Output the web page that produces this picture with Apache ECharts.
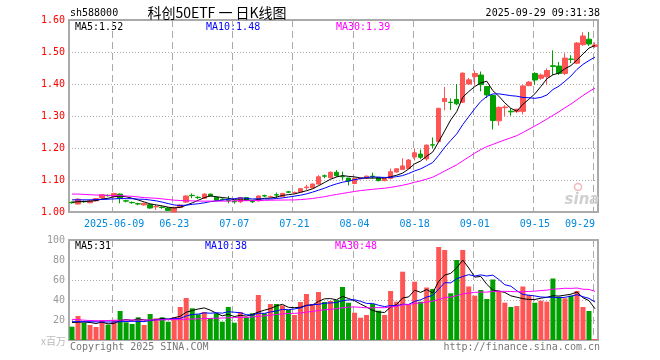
<!DOCTYPE html>
<html><head><meta charset="utf-8">
<script src="https://cdn.jsdelivr.net/npm/echarts@6/dist/echarts.min.js"></script>
<style>html,body{margin:0;padding:0;background:#fff}#c{width:660px;height:360px}</style>
</head><body><div id="c"></div>
<script>
const dates = ['2025-05-28','2025-05-29','2025-05-30','2025-06-03','2025-06-04','2025-06-05','2025-06-06','2025-06-09','2025-06-10','2025-06-11','2025-06-12','2025-06-13','2025-06-16','2025-06-17','2025-06-18','2025-06-19','2025-06-20','2025-06-23','2025-06-24','2025-06-25','2025-06-26','2025-06-27','2025-06-30','2025-07-01','2025-07-02','2025-07-03','2025-07-04','2025-07-07','2025-07-08','2025-07-09','2025-07-10','2025-07-11','2025-07-14','2025-07-15','2025-07-16','2025-07-17','2025-07-18','2025-07-21','2025-07-22','2025-07-23','2025-07-24','2025-07-25','2025-07-28','2025-07-29','2025-07-30','2025-07-31','2025-08-01','2025-08-04','2025-08-05','2025-08-06','2025-08-07','2025-08-08','2025-08-11','2025-08-12','2025-08-13','2025-08-14','2025-08-15','2025-08-18','2025-08-19','2025-08-20','2025-08-21','2025-08-22','2025-08-25','2025-08-26','2025-08-27','2025-08-28','2025-08-29','2025-09-01','2025-09-02','2025-09-03','2025-09-04','2025-09-05','2025-09-08','2025-09-09','2025-09-10','2025-09-11','2025-09-12','2025-09-15','2025-09-16','2025-09-17','2025-09-18','2025-09-19','2025-09-22','2025-09-23','2025-09-24','2025-09-25','2025-09-26','2025-09-29'];
const opens = [1.030,1.025,1.033,1.029,1.035,1.044,1.052,1.048,1.056,1.035,1.030,1.026,1.022,1.023,1.016,1.015,1.0125,1.000,1.014,1.031,1.052,1.046,1.043,1.056,1.046,1.040,1.036,1.033,1.032,1.045,1.033,1.035,1.051,1.047,1.054,1.048,1.063,1.060,1.0625,1.076,1.075,1.0875,1.113,1.107,1.124,1.111,1.106,1.089,1.104,1.106,1.112,1.108,1.098,1.105,1.125,1.133,1.136,1.172,1.181,1.166,1.210,1.220,1.345,1.343,1.352,1.343,1.400,1.423,1.428,1.392,1.364,1.285,1.326,1.315,1.3135,1.3145,1.395,1.433,1.418,1.423,1.457,1.456,1.433,1.478,1.465,1.523,1.540,1.517];
const closes = [1.029,1.040,1.032,1.035,1.042,1.054,1.051,1.058,1.042,1.034,1.029,1.025,1.027,1.0125,1.017,1.014,1.005,1.0146,1.022,1.050,1.051,1.045,1.056,1.050,1.036,1.039,1.035,1.032,1.045,1.037,1.032,1.050,1.050,1.048,1.053,1.058,1.062,1.061,1.073,1.078,1.0875,1.110,1.112,1.124,1.1135,1.110,1.097,1.105,1.106,1.112,1.110,1.098,1.105,1.126,1.135,1.144,1.1625,1.185,1.171,1.209,1.209,1.324,1.355,1.342,1.338,1.434,1.413,1.433,1.398,1.366,1.286,1.327,1.328,1.313,1.321,1.394,1.406,1.4125,1.428,1.442,1.455,1.433,1.481,1.477,1.528,1.550,1.525,1.522];
const lows = [1.026,1.023,1.029,1.027,1.033,1.042,1.048,1.046,1.027,1.030,1.026,1.021,1.020,1.010,1.006,1.010,1.003,1.000,1.012,1.029,1.043,1.040,1.041,1.048,1.034,1.035,1.027,1.026,1.028,1.035,1.028,1.032,1.047,1.044,1.043,1.046,1.059,1.057,1.060,1.069,1.073,1.085,1.106,1.105,1.110,1.100,1.083,1.087,1.102,1.104,1.104,1.096,1.096,1.102,1.123,1.131,1.134,1.161,1.165,1.160,1.199,1.218,1.318,1.319,1.334,1.340,1.397,1.395,1.377,1.356,1.258,1.270,1.300,1.301,1.310,1.305,1.393,1.397,1.413,1.397,1.428,1.428,1.428,1.465,1.462,1.519,1.519,1.513];
const highs = [1.033,1.043,1.036,1.037,1.044,1.056,1.055,1.060,1.058,1.038,1.033,1.029,1.029,1.025,1.023,1.018,1.015,1.016,1.025,1.052,1.058,1.049,1.058,1.057,1.048,1.043,1.050,1.037,1.047,1.046,1.036,1.052,1.054,1.051,1.061,1.060,1.066,1.064,1.075,1.085,1.089,1.115,1.117,1.127,1.131,1.126,1.107,1.107,1.108,1.114,1.123,1.110,1.107,1.136,1.137,1.168,1.165,1.198,1.195,1.211,1.233,1.326,1.391,1.355,1.400,1.436,1.419,1.442,1.439,1.394,1.367,1.330,1.334,1.324,1.323,1.396,1.409,1.437,1.433,1.449,1.505,1.469,1.496,1.490,1.531,1.562,1.563,1.530];
const volumes = [13.3,24,17.3,15,13,20,15.3,20,29,17.7,16,22.7,15,26,21.7,22.7,18.3,22.7,33,42,31.7,25.7,28,22,26.7,18.3,33,17.3,28,22.7,26.7,45,26.7,36,36,34.7,30,25,38,46,36,48,38,39,40,53,37.3,27.3,22.3,25,36,29.3,25,49,38.3,68.3,35,58.3,38.3,52.5,51,93,90,46.7,80,90,53.5,44.3,50,41,60.5,49,37.3,33,34,53.5,45,37.3,39.3,38.3,61.5,43.3,41.7,44.3,49,33,29,1];
// moving-average values before enough history exists
const priceMa5Head = [1.031,1.032,1.033,1.034];
const priceMa10Head = [1.038,1.038,1.038,1.038,1.039,1.039,1.040,1.041,1.042];
const priceMa30Head = [1.056,1.056,1.055,1.054,1.053,1.053,1.052,1.051,1.051,1.050,1.049,1.047,1.045,1.044,1.043,1.041,1.039,1.037,1.036,1.035,1.035,1.034,1.034,1.034,1.034,1.034,1.034,1.035,1.035];
const volMa5Head = [17.5,17.8,18,17.5];
const volMa10Head = [18.3,18.3,18.3,18.3,18.2,18.1,18,18,18.3];
const volMa30Head = [20.7,20.3,19.8,19.5,19.3,19.3,19.5,19.7,19.8,20,20,20,20,20,20,20.2,20.3,20.5,20.7,20.8,21,21.2,21.4,21.6,21.8,22,22.2,22.4,22.6];
const labelDates = ['2025-06-09','2025-06-23','2025-07-07','2025-07-21','2025-08-04','2025-08-18','2025-09-01','2025-09-15','2025-09-29'];
const priceTicks = [1.00,1.10,1.20,1.30,1.40,1.50,1.60];
const volTicks = [0,20,40,60,80,100];

function movingAvg(src, n, head) {
  return src.map((v, i) => {
    if (i < n - 1) return head[i];
    let s = 0;
    for (let k = i - n + 1; k <= i; k++) s += src[k];
    return s / n;
  });
}
const pMa5 = movingAvg(closes, 5, priceMa5Head);
const pMa10 = movingAvg(closes, 10, priceMa10Head);
const pMa30 = movingAvg(closes, 30, priceMa30Head);
const vMa5 = movingAvg(volumes, 5, volMa5Head);
const vMa10 = movingAvg(volumes, 10, volMa10Head);
const vMa30 = movingAvg(volumes, 30, volMa30Head);
const last = a => a[a.length - 1];

// layout
const GL = 69, GW = 529, PT = 20, PH = 192, VT = 240, VH = 100;

const RED = '#ff5555', GREEN = '#00a000';
const MONO = '"DejaVu Sans Mono", monospace';
const candleData = dates.map((d, i) => [opens[i], closes[i], lows[i], highs[i]]);
const volData = volumes.map((v, i) => ({ value: v, itemStyle: { color: closes[i] >= opens[i] ? RED : GREEN } }));
const labelSet = new Set(labelDates);
const labelIdx = labelDates.map(d => dates.indexOf(d));
const pMin = priceTicks[0], pMax = priceTicks[priceTicks.length - 1];
const vMin = volTicks[0], vMax = volTicks[volTicks.length - 1];

function maLine(name, data, color, xi, yi, z) {
  return { name, type: 'line', data, xAxisIndex: xi, yAxisIndex: yi, showSymbol: false, symbol: 'none',
    lineStyle: { color, width: 1 }, itemStyle: { color }, z, silent: true };
}

// dashed vertical grid lines at the labelled category centres
const band = GW / dates.length;
const dashEls = [];
function addDashes(top, h) {
  labelIdx.forEach(i => {
    const x = Math.round(GL + (i + 0.5) * band) - 2;
    for (let y = top; y < top + h; y += 11) {
      dashEls.push({ type: 'rect', z: 1, silent: true,
        shape: { x: x, y: y, width: 1, height: Math.min(7, top + h - y) }, style: { fill: '#aaaaaa' } });
    }
  });
}
addDashes(PT, PH);
addDashes(VT, VH);

const textGraphics = [
  { type: 'text', x: 70, y: 13, style: { text: 'sh588000', font: '10px ' + MONO, fill: '#000', align: 'left', verticalAlign: 'middle' } },
  { type: 'text', x: 217, y: 13, style: { text: '科创50ETF 一 日K线图', font: '14px "Noto Sans CJK SC"', fill: '#000', align: 'center', verticalAlign: 'middle' } },
  { type: 'text', x: 600, y: 13, style: { text: '2025-09-29 09:31:38', font: '10px ' + MONO, fill: '#000', align: 'right', verticalAlign: 'middle' } },
  { type: 'text', x: 75, y: 27, style: { text: 'MA5:' + last(pMa5).toFixed(2), font: '10px ' + MONO, fill: '#000', verticalAlign: 'middle' } },
  { type: 'text', x: 206, y: 27, style: { text: 'MA10:' + last(pMa10).toFixed(2), font: '10px ' + MONO, fill: '#0000ff', verticalAlign: 'middle' } },
  { type: 'text', x: 336, y: 27, style: { text: 'MA30:' + last(pMa30).toFixed(2), font: '10px ' + MONO, fill: '#ff00ff', verticalAlign: 'middle' } },
  { type: 'text', x: 75, y: 246, style: { text: 'MA5:' + Math.floor(last(vMa5)), font: '10px ' + MONO, fill: '#000', verticalAlign: 'middle' } },
  { type: 'text', x: 205, y: 246, style: { text: 'MA10:' + Math.floor(last(vMa10)), font: '10px ' + MONO, fill: '#0000ff', verticalAlign: 'middle' } },
  { type: 'text', x: 335, y: 246, style: { text: 'MA30:' + Math.floor(last(vMa30)), font: '10px ' + MONO, fill: '#ff00ff', verticalAlign: 'middle' } },
  { type: 'text', x: 66, y: 341, style: { text: 'x百万', font: '10px "Noto Sans CJK SC"', fill: '#bbbbbb', align: 'right', verticalAlign: 'middle' } },
  { type: 'text', x: 70, y: 347, style: { text: 'Copyright 2025 SINA.COM', font: '10px ' + MONO, fill: '#777777', verticalAlign: 'middle' } },
  { type: 'text', x: 600, y: 347, style: { text: 'http://finance.sina.com.cn', font: '10px ' + MONO, fill: '#777777', align: 'right', verticalAlign: 'middle' } },
  { type: 'text', x: 582, y: 200, z: 1, style: { text: 'sina', font: 'italic bold 15px "DejaVu Sans"', fill: '#d0d0d0', align: 'center', verticalAlign: 'middle' } },
  { type: 'circle', shape: { cx: 578, cy: 187, r: 3.5 }, z: 1, style: { fill: 'none', stroke: '#f0b8b8', lineWidth: 1.5 } }
];

const chart = echarts.init(document.getElementById('c'), null, { renderer: 'canvas' });
chart.setOption({
  animation: false,
  backgroundColor: '#fff',
  grid: [
    { left: GL, width: GW, top: PT, height: PH, show: true, borderColor: '#aaaaaa', borderWidth: 2, backgroundColor: 'transparent' },
    { left: GL, width: GW, top: VT, height: VH, show: true, borderColor: '#aaaaaa', borderWidth: 2, backgroundColor: 'transparent' }
  ],
  xAxis: [
    { type: 'category', gridIndex: 0, data: dates, boundaryGap: true,
      axisLine: { show: false }, axisTick: { show: false }, splitLine: { show: false },
      axisLabel: { color: '#0088dd', fontFamily: 'DejaVu Sans Mono', fontSize: 10, margin: 7,
        interval: (i, v) => labelSet.has(dates[i]),
        formatter: (v, i) => (v === labelDates[0] ? v : v.slice(5)), alignMaxLabel: 'right' } },
    { type: 'category', gridIndex: 1, data: dates, boundaryGap: true,
      axisLine: { show: false }, axisTick: { show: false }, splitLine: { show: false }, axisLabel: { show: false } }
  ],
  yAxis: [
    { type: 'value', gridIndex: 0, min: pMin, max: pMax, interval: 0.1,
      axisLine: { show: false }, axisTick: { show: false },
      splitLine: { show: true, lineStyle: { color: '#aaaaaa', type: [1, 2] } },
      axisLabel: { color: '#ff0000', fontFamily: 'DejaVu Sans Mono', fontSize: 10, margin: 4, padding: [5, 0, 0, 0],
        formatter: v => v.toFixed(2) } },
    { type: 'value', gridIndex: 1, min: vMin, max: vMax, interval: 20,
      axisLine: { show: false }, axisTick: { show: false },
      splitLine: { show: true, lineStyle: { color: '#aaaaaa', type: [1, 2] } },
      axisLabel: { color: '#999999', fontFamily: 'DejaVu Sans Mono', fontSize: 10, margin: 4,
        formatter: v => (v === 0 ? '' : String(v)) } }
  ],
  series: [
    { type: 'candlestick', xAxisIndex: 0, yAxisIndex: 0, data: candleData, barWidth: 5, z: 2,
      itemStyle: { color: RED, color0: GREEN, borderColor: RED, borderColor0: GREEN, borderWidth: 1 } },
    maLine('MA5', pMa5, '#000000', 0, 0, 3),
    maLine('MA10', pMa10, '#0000ff', 0, 0, 3),
    maLine('MA30', pMa30, '#ff00ff', 0, 0, 3),
    { type: 'bar', xAxisIndex: 1, yAxisIndex: 1, data: volData, barWidth: 5, z: 2 },
    maLine('VMA5', vMa5, '#000000', 1, 1, 3),
    maLine('VMA10', vMa10, '#0000ff', 1, 1, 3),
    maLine('VMA30', vMa30, '#ff00ff', 1, 1, 3)
  ],
  graphic: dashEls.concat(textGraphics)
});
</script></body></html>
